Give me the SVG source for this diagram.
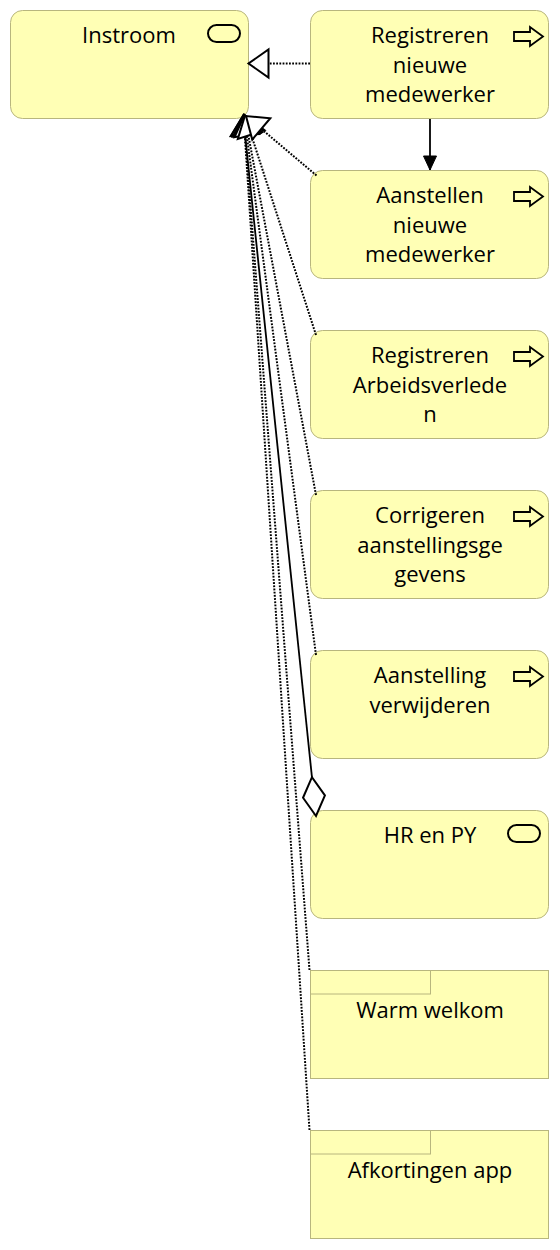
<svg xmlns="http://www.w3.org/2000/svg" width="560" height="1250" viewBox="0 0 560 1250">
<style>
.box{fill:#ffffb5;stroke:#b8b67e;stroke-width:1}
.t{font-family:"Open Sans","Noto Sans","DejaVu Sans",sans-serif;font-size:22px;fill:#000;text-anchor:middle}
.ic{fill:none;stroke:#000;stroke-width:2}
.real{fill:none;stroke:#000;stroke-width:2;stroke-dasharray:1.8 1.4;marker-end:url(#tri)}
.trig{fill:none;stroke:#000;stroke-width:1.8;marker-end:url(#arr)}
.agg{fill:none;stroke:#000;stroke-width:1.8;marker-start:url(#dia)}
</style>
<defs>
<marker id="tri" markerUnits="userSpaceOnUse" markerWidth="30" markerHeight="30" refX="0" refY="0" orient="auto" overflow="visible">
<path d="M0,0 L-20,-14 L-20,14 Z" fill="#fff" stroke="#000" stroke-width="2" stroke-dasharray="none"/>
</marker>
<marker id="arr" markerUnits="userSpaceOnUse" markerWidth="20" markerHeight="20" refX="0" refY="0" orient="auto" overflow="visible">
<path d="M0,0 L-14,-6.5 L-14,6.5 Z" fill="#000" stroke="#000" stroke-width="1"/>
</marker>
<marker id="dia" markerUnits="userSpaceOnUse" markerWidth="50" markerHeight="30" refX="0" refY="0" orient="auto" overflow="visible">
<path d="M0,0 L19.5,-11 L39,0 L19.5,11 Z" fill="#fff" stroke="#000" stroke-width="2"/>
</marker>
<clipPath id="c"><rect x="313" y="0" width="194" height="1250"/></clipPath>
<path id="proc" d="M514,32 L530,32 L530,27 L543,36.5 L530,46 L530,41 L514,41 Z"/>
</defs>

<g id="instroom">
<rect class="box" x="10.5" y="10.5" width="238" height="108" rx="12"/>
<text class="t" x="129" y="43">Instroom</text>
<rect class="ic" x="208" y="25" width="32" height="17" rx="8.5"/>
</g>

<g id="registreren-nieuwe-medewerker">
<rect class="box" x="310.5" y="10.5" width="238" height="108" rx="12"/>
<g clip-path="url(#c)">
<text class="t" x="430" y="43">Registreren</text>
<text class="t" x="430" y="72.7">nieuwe</text>
<text class="t" x="430" y="102.4">medewerker</text>
</g>
<use href="#proc" class="ic" style="stroke-width:1.8"/>
</g>

<g id="aanstellen-nieuwe-medewerker">
<rect class="box" x="310.5" y="170.5" width="238" height="108" rx="12"/>
<g clip-path="url(#c)">
<text class="t" x="430" y="203">Aanstellen</text>
<text class="t" x="430" y="232.7">nieuwe</text>
<text class="t" x="430" y="262.4">medewerker</text>
</g>
<use href="#proc" class="ic" y="160" style="stroke-width:1.8"/>
</g>

<g id="registreren-arbeidsverleden">
<rect class="box" x="310.5" y="330.5" width="238" height="108" rx="12"/>
<g clip-path="url(#c)">
<text class="t" x="430" y="363">Registreren</text>
<text class="t" x="430" y="392.7">Arbeidsverlede</text>
<text class="t" x="430" y="422.4">n</text>
</g>
<use href="#proc" class="ic" y="320" style="stroke-width:1.8"/>
</g>

<g id="corrigeren-aanstellingsgegevens">
<rect class="box" x="310.5" y="490.5" width="238" height="108" rx="12"/>
<g clip-path="url(#c)">
<text class="t" x="430" y="523">Corrigeren</text>
<text class="t" x="430" y="552.7">aanstellingsge</text>
<text class="t" x="430" y="582.4">gevens</text>
</g>
<use href="#proc" class="ic" y="480" style="stroke-width:1.8"/>
</g>

<g id="aanstelling-verwijderen">
<rect class="box" x="310.5" y="650.5" width="238" height="108" rx="12"/>
<g clip-path="url(#c)">
<text class="t" x="430" y="683">Aanstelling</text>
<text class="t" x="430" y="712.7">verwijderen</text>
</g>
<use href="#proc" class="ic" y="640" style="stroke-width:1.8"/>
</g>

<g id="hr-en-py">
<rect class="box" x="310.5" y="810.5" width="238" height="108" rx="12"/>
<text class="t" x="430" y="843">HR en PY</text>
<rect class="ic" x="508" y="825" width="32" height="17" rx="8.5"/>
</g>

<g id="warm-welkom">
<rect class="box" x="310.5" y="970.5" width="238" height="108"/>
<rect class="box" x="310.5" y="970.5" width="120" height="23.5"/>
<text class="t" x="430" y="1018">Warm welkom</text>
</g>

<g id="afkortingen-app">
<rect class="box" x="310.5" y="1130.5" width="238" height="108"/>
<rect class="box" x="310.5" y="1130.5" width="120" height="23.5"/>
<text class="t" x="430" y="1178">Afkortingen app</text>
</g>

<g id="connectors">
<path class="real" d="M310,63.5 L248.5,63.5"/>
<path class="trig" d="M430,119 L430,170"/>
<path class="real" d="M309.5,1130 L243.5,115"/>
<path class="real" d="M309.5,970 L243.5,115"/>
<path class="agg" d="M316,816 L243,115"/>
<path class="real" d="M316,655 L244,115"/>
<path class="real" d="M316,495 L244.5,115"/>
<path class="real" d="M316,335 L245,115.5"/>
<path class="real" d="M316.5,175.5 L246,116"/>
</g>
</svg>
